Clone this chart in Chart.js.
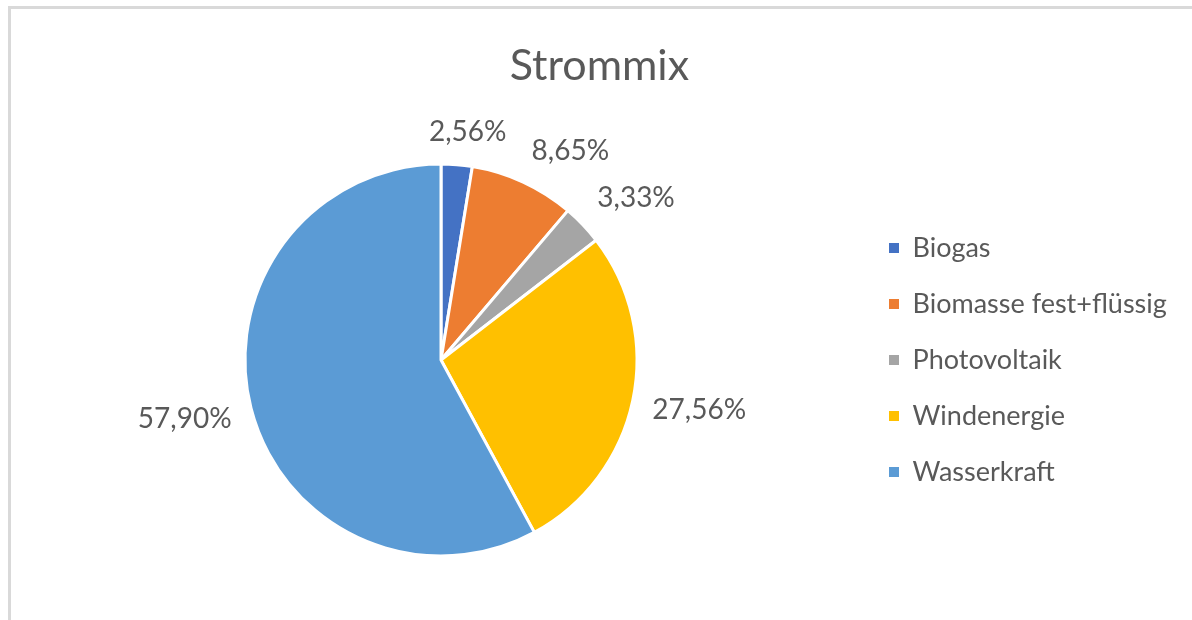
<!DOCTYPE html>
<html>
<head>
<meta charset="utf-8">
<script src="https://cdn.jsdelivr.net/npm/chart.js@4/dist/chart.umd.min.js"></script>
<style>
  html, body { margin: 0; padding: 0; background: #fff; overflow: hidden; }
  body { width: 1192px; height: 620px; position: relative; }
  #frame {
    position: absolute; left: 8px; top: 6px;
    width: 1300px; height: 700px;
    border-top: 3px solid #d9d9d9; border-left: 3px solid #d9d9d9;
  }
  #wrap { position: absolute; left: 11px; top: 9px; width: 1190px; height: 660px; }
</style>
</head>
<body>
<div id="frame"></div>
<div id="wrap"><canvas id="strommix"></canvas></div>
<script>
// Daten
const labels = ['Biogas', 'Biomasse fest+flüssig', 'Photovoltaik', 'Windenergie', 'Wasserkraft'];
const values = [2.56, 8.65, 3.33, 27.56, 57.90];
const colors = ['#4472C4', '#ED7D31', '#A5A5A5', '#FFC000', '#5B9BD5'];

const textColor = '#595959';
const fontFamily = 'Lato, "Open Sans", sans-serif';
const legendSize = 27;
const legendPad = 29;

// Legende so breit machen, dass sie bei x=889 anfängt
const mctx = document.createElement('canvas').getContext('2d');
mctx.font = `normal ${legendSize}px ${fontFamily}`;
const maxTextW = Math.max(...labels.map(t => mctx.measureText(t).width));
const legendW = legendPad + 10 + legendSize / 2 + maxTextW + 10;
const padRight = 1190 - 849 - legendW;

// Beschriftungen außen, wie bei Excel
const outsideLabels = {
    id: 'outsideLabels',
    afterDatasetsDraw(chart) {
        const ctx = chart.ctx;
        const meta = chart.getDatasetMeta(0);
        ctx.save();
        ctx.font = `normal 28px ${fontFamily}`;
        ctx.fillStyle = textColor;
        ctx.textAlign = 'center';
        ctx.textBaseline = 'middle';
        meta.data.forEach((arc, i) => {
            const p = arc.getProps(['x', 'y', 'startAngle', 'endAngle', 'outerRadius'], true);
            const mid = (p.startAngle + p.endAngle) / 2;
            const dx = Math.cos(mid), dy = Math.sin(mid);
            const r = p.outerRadius + 20;
            const txt = values[i].toFixed(2).replace('.', ',') + '%';
            const w = ctx.measureText(txt).width;
            const h = 22;
            const fx = Math.max(-1, Math.min(1, dx * 3));
            const fy = Math.max(-1, Math.min(1, dy * 3));
            const cx = p.x + r * dx + fx * w / 2;
            const cy = p.y + r * dy + fy * h / 2 - 2;
            ctx.fillText(txt, cx, cy);
        });
        ctx.restore();
    }
};

new Chart(document.getElementById('strommix'), {
    type: 'pie',
    data: {
        labels: labels,
        datasets: [{
            data: values,
            backgroundColor: colors,
            borderColor: '#ffffff',
            borderWidth: 3,
            radius: 196
        }]
    },
    options: {
        responsive: true,
        maintainAspectRatio: false,
        animation: false,
        events: [],
        layout: { padding: { left: 11, right: padRight, top: 0, bottom: 49 } },
        plugins: {
            title: {
                display: true,
                text: 'Strommix',
                color: textColor,
                font: { family: fontFamily, size: 43, weight: 'normal' },
                padding: { top: 31, bottom: 8.4 }
            },
            legend: {
                position: 'right',
                align: 'center',
                fullSize: false,
                labels: {
                    color: textColor,
                    font: { family: fontFamily, size: legendSize },
                    boxWidth: 10,
                    boxHeight: 10,
                    padding: legendPad,
                    generateLabels: (chart) => labels.map((t, i) => ({
                        text: t,
                        fillStyle: colors[i],
                        strokeStyle: colors[i],
                        lineWidth: 0,
                        fontColor: textColor,
                        hidden: false,
                        index: i
                    }))
                }
            },
            tooltip: { enabled: false }
        }
    },
    plugins: [outsideLabels]
});
</script>
</body>
</html>
